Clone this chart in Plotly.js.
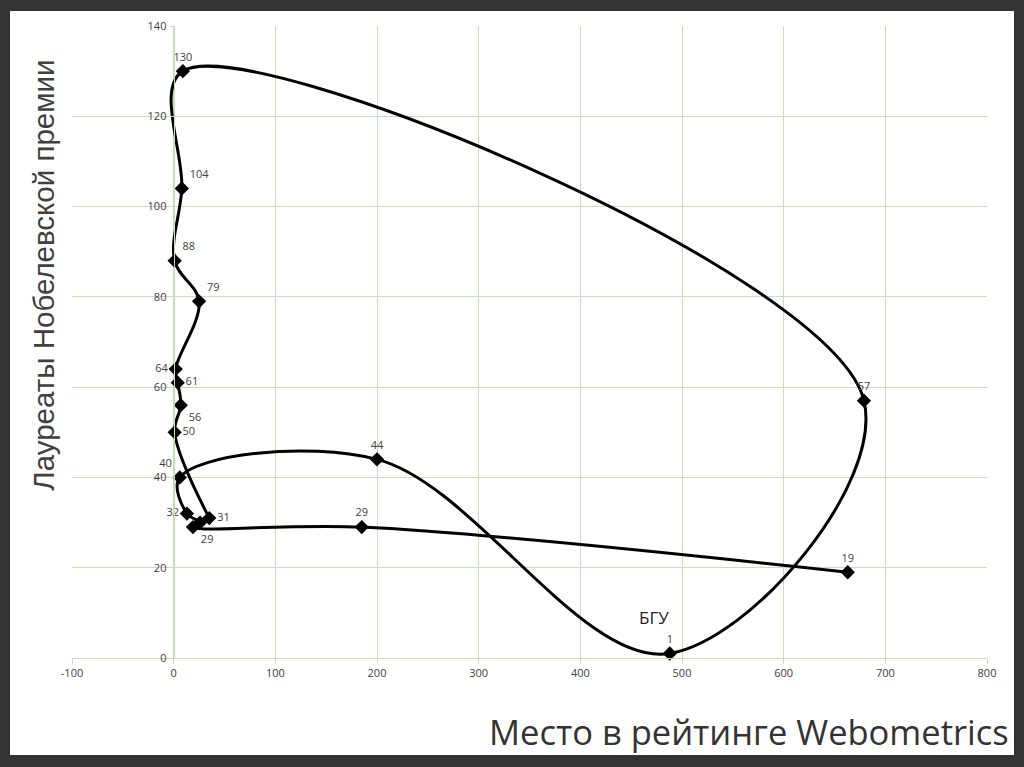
<!DOCTYPE html>
<html>
<head>
<meta charset="utf-8">
<script src="https://cdn.plot.ly/plotly-3.0.1.min.js"></script>
<style>
html,body{margin:0;padding:0;background:#333333;width:1024px;height:767px;overflow:hidden;}
#chart{position:absolute;left:10px;top:11px;width:1004px;height:744px;background:#fff;}
</style>
</head>
<body>
<div id="chart"></div>
<script>
// Path order as drawn (smoothed line through the points)
const rankWebometrics = [663, 185, 19, 26, 13, 6, 200, 488, 679, 9, 8, 1, 25, 2, 4, 7, 1, 35];
const nobelLaureates  = [19, 29, 29, 30, 32, 40, 44, 1, 57, 130, 104, 88, 79, 64, 61, 56, 50, 31];
const pointLabels     = ["19","29","29","","32","40","44","1","57","130","104","88","79","64","61","56","50","31"];
const labelPositions  = ["top center","top center","bottom right","top center","middle left","top left",
                         "top center","top center","top center","top center","top right","top right",
                         "top right","middle left","middle right","bottom right","middle right","middle right"];
const xTicks = [-100, 0, 100, 200, 300, 400, 500, 600, 700, 800];
const yTicks = [0, 20, 40, 60, 80, 100, 120, 140];
const bguIndex = 7;

const grid = '#c5e0b3';
const textGray = '#404040';

const trace = {
  x: rankWebometrics,
  y: nobelLaureates,
  mode: 'lines+markers+text',
  type: 'scatter',
  line: {color: '#000', width: 3, shape: 'spline', smoothing: 1.05},
  marker: {symbol: 'diamond', size: 11, color: '#000'},
  text: pointLabels,
  textposition: labelPositions,
  textfont: {family: 'Open Sans, sans-serif', size: 11, color: textGray},
  cliponaxis: false,
  hoverinfo: 'x+y'
};

const layout = {
  width: 1004, height: 744,
  margin: {l: 62, r: 27, t: 15, b: 97},
  paper_bgcolor: '#ffffff', plot_bgcolor: '#ffffff',
  showlegend: false,
  xaxis: {
    range: [-100, 800], tickvals: xTicks, ticktext: xTicks.map(String),
    showgrid: true, gridcolor: grid, gridwidth: 1,
    zeroline: true, zerolinecolor: grid, zerolinewidth: 1,
    showline: true, linecolor: grid, linewidth: 1,
    ticks: 'outside', ticklen: 5, tickcolor: grid,
    tickfont: {family: 'Open Sans, sans-serif', size: 11, color: textGray},
    fixedrange: true
  },
  yaxis: {
    range: [0, 140], tickvals: yTicks, ticktext: yTicks.map(String),
    anchor: 'free', position: 100/900,
    showgrid: true, gridcolor: grid, gridwidth: 1,
    zeroline: false,
    showline: true, linecolor: grid, linewidth: 1,
    ticks: 'outside', ticklen: 5, tickcolor: grid,
    tickfont: {family: 'Open Sans, sans-serif', size: 11, color: textGray},
    fixedrange: true
  },
  annotations: [
    {
      x: rankWebometrics[bguIndex], y: nobelLaureates[bguIndex], xref: 'x', yref: 'y',
      text: 'БГУ', showarrow: false, xanchor: 'center', yanchor: 'bottom', yshift: 22, xshift: -16,
      font: {family: 'Open Sans, sans-serif', size: 17, color: '#222'}
    },
    {
      xref: 'paper', yref: 'paper', x: -0.0306, y: 0.605, textangle: -90,
      text: 'Лауреаты Нобелевской премии', showarrow: false, xanchor: 'center', yanchor: 'middle',
      font: {family: 'Liberation Sans, Arial, sans-serif', size: 29.5, color: textGray}
    },
    {
      xref: 'paper', yref: 'paper', x: 1.026, y: -0.117,
      text: 'Место в рейтинге Webometrics', showarrow: false, xanchor: 'right', yanchor: 'middle',
      font: {family: 'Open Sans, sans-serif', size: 34.5, color: '#333'}
    }
  ]
};

Plotly.newPlot('chart', [trace], layout, {displayModeBar: false, staticPlot: true});
</script>
</body>
</html>
